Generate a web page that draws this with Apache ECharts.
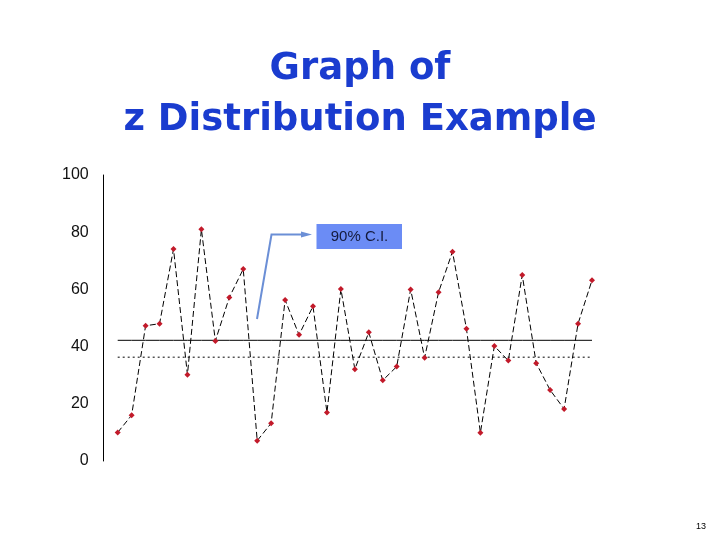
<!DOCTYPE html>
<html>
<head>
<meta charset="utf-8">
<script src="https://cdn.jsdelivr.net/npm/echarts@6/dist/echarts.min.js"></script>
<style>html,body{margin:0;padding:0;background:#fff}#c{width:720px;height:540px}</style>
</head>
<body>
<div id="c"></div>
<script>
var categories = ['1','2','3','4','5','6','7','8','9','10','11','12','13','14','15','16','17','18','19','20','21','22','23','24','25','26','27','28','29','30','31','32','33','34','35'];
var sampleValues = [10.0,16.0,47.3,48.0,74.1,30.2,81.0,42.0,57.2,67.1,7.1,13.2,56.3,44.1,54.1,17.0,60.1,32.1,45.0,28.2,33.0,60.0,36.1,59.0,73.2,46.2,9.9,40.2,35.1,65.0,34.2,24.8,18.2,48.0,63.2];
var upperLevel = 42.2;
var lowerLevel = 36.3;
var yTicks = [0, 20, 40, 60, 80, 100];
var annotationText = '90% C.I.';
var titleLines = ['Graph of', 'z Distribution Example'];
var pageNumber = '13';

var upperLine = categories.map(function(){ return upperLevel; });
var lowerLine = categories.map(function(){ return lowerLevel; });

var chart = echarts.init(document.getElementById('c'));
chart.setOption({
  animation: false,
  backgroundColor: '#ffffff',
  title: {
    text: titleLines.join('\n'),
    left: 'center',
    top: 44,
    padding: 0,
    textStyle: {
      fontFamily: '"Comic Sans MS", "DejaVu Sans", sans-serif',
      fontSize: 37,
      fontWeight: 'bold',
      color: '#1a3ccf',
      lineHeight: 51
    }
  },
  grid: { left: 117.7, right: 128, top: 175, bottom: 79, containLabel: false },
  xAxis: {
    type: 'category',
    data: categories,
    boundaryGap: false,
    show: false
  },
  yAxis: {
    type: 'value',
    min: 0, max: 100, interval: 20,
    offset: 14,
    axisLine: { show: true, lineStyle: { color: '#000', width: 1 } },
    axisTick: { show: false },
    splitLine: { show: false },
    axisLabel: {
      margin: 15,
      fontFamily: 'Liberation Sans, Arial, sans-serif',
      fontSize: 16,
      color: '#111',
      formatter: function(v){ return yTicks.indexOf(v) >= 0 ? String(v) : ''; }
    }
  },
  series: [
    {
      type: 'line', data: upperLine, symbol: 'none', silent: true,
      lineStyle: { color: '#000', width: 1, type: 'solid' }, z: 1
    },
    {
      type: 'line', data: lowerLine, symbol: 'none', silent: true,
      lineStyle: { color: '#000', width: 1, type: [2, 3] }, z: 1
    },
    {
      type: 'line', data: sampleValues,
      symbol: 'diamond', symbolSize: 6,
      itemStyle: { color: '#c21a2a' },
      lineStyle: { color: '#000', width: 1, type: [6, 3] }, z: 3
    }
  ],
  graphic: [
    { type: 'polyline', shape: { points: [[257, 319], [271.5, 234.5], [303, 234.5]] },
      style: { stroke: '#6b8fd6', lineWidth: 2, fill: null } },
    { type: 'polygon', shape: { points: [[301, 231.5], [312, 234.5], [301, 237.5]] },
      style: { fill: '#6b8fd6' } },
    { type: 'rect', shape: { x: 316.5, y: 224, width: 85.5, height: 25 },
      style: { fill: '#6b8cf5' } },
    { type: 'text', x: 359.5, y: 237,
      style: { text: annotationText, fontFamily: 'Liberation Sans, Arial, sans-serif', fontSize: 15,
               fill: '#141a3c', align: 'center', verticalAlign: 'middle' } },
    { type: 'text', x: 706, y: 527,
      style: { text: pageNumber, fontFamily: 'Liberation Sans, Arial, sans-serif', fontSize: 9,
               fill: '#000', align: 'right', verticalAlign: 'middle' } }
  ]
});
</script>
</body>
</html>
